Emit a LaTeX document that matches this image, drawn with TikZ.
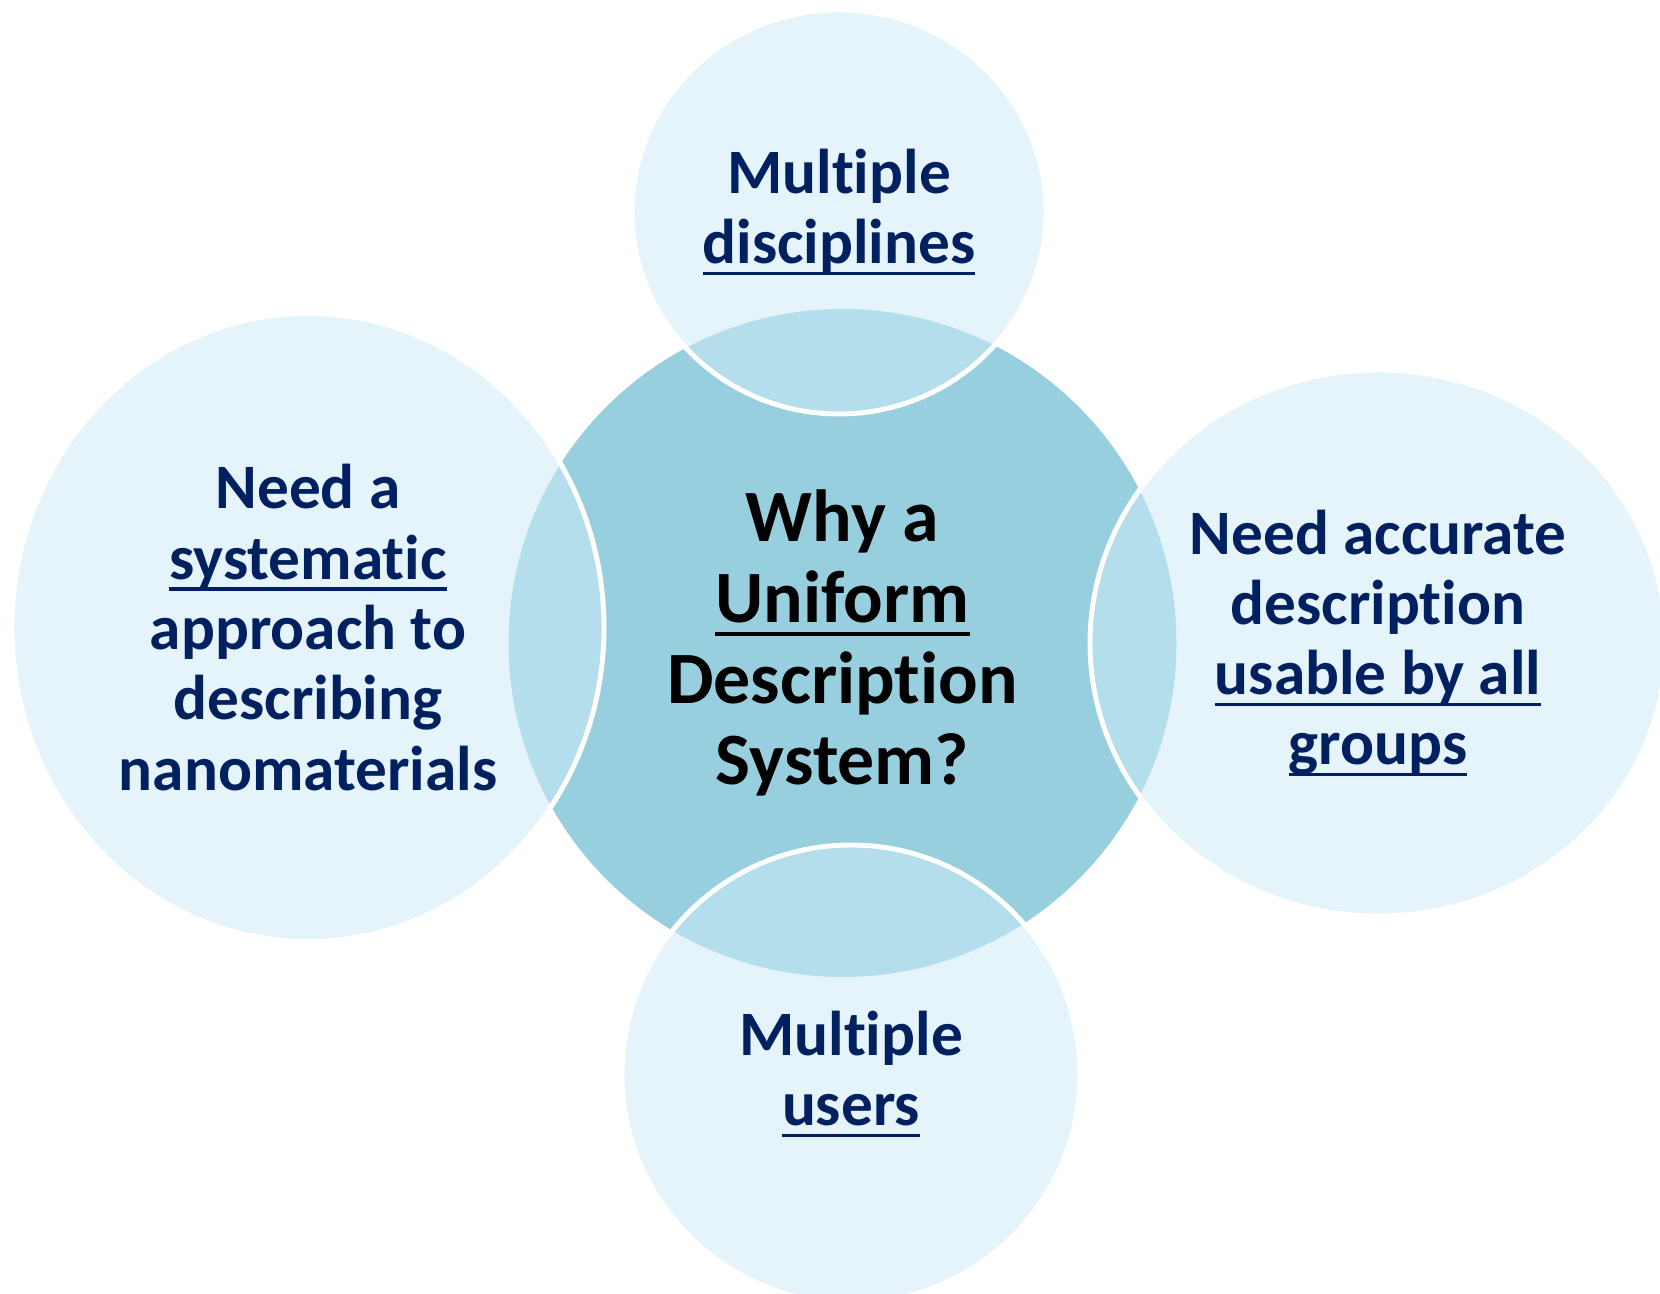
\documentclass[tikz,border=0pt]{standalone}
\usepackage{fontspec}
\setmainfont{Carlito}[RawFeature={-liga;-clig}]
\usetikzlibrary{shapes.geometric}

\definecolor{hubblue}{RGB}{152,207,223}
\definecolor{petalblue}{RGB}{205,236,247}
\definecolor{navytext}{RGB}{0,32,96}

\newcommand{\undl}[1]{\setbox0\hbox{#1}\rlap{\rule[-0.18em]{\wd0}{0.05em}}\box0}

\pgfdeclareradialshading{vignette}{\pgfpoint{0bp}{0bp}}{color(0bp)=(white); color(62bp)=(white); color(71bp)=(black!9)}

\begin{document}
\begin{tikzpicture}[
  hub/.style={ellipse, fill=hubblue, inner sep=0pt, minimum width=6.68cm, minimum height=6.68cm,
    align=center, font=\fontsize{21}{23}\selectfont\bfseries},
  petal/.style={ellipse, fill=petalblue, fill opacity=0.53, text opacity=1, draw=white, line width=1.4pt,
    inner sep=0pt, align=center, text=navytext, font=\fontsize{18}{20}\selectfont\bfseries}
]

% Frame
\useasboundingbox (0,0) rectangle (16.6,12.93);
\clip (0,0) rectangle (16.6,12.93);
\shade[shading=vignette] (0,0) rectangle (16.6,12.93);

% Centre
\node[hub] (why) at (8.425,6.50) {Why a\\\undl{Uniform}\\Description\\System?};

% Petals
\node[petal, minimum width=4.14cm, minimum height=4.04cm] (disc) at (8.39,10.81)
  {Multiple\\\undl{disciplines}};
\node[petal, minimum width=5.92cm, minimum height=6.28cm] (syst) at (3.08,6.655)
  {Need a\\\undl{systematic}\\approach to\\describing\\nanomaterials};
\node[petal, minimum width=5.76cm, minimum height=5.46cm] (accu) at (13.78,6.50)
  {Need accurate\\description\\\undl{usable by all}\\\undl{groups}};
\node[petal, minimum width=4.58cm, minimum height=4.58cm] (user) at (8.51,2.19)
  {Multiple\\\undl{users}};

\end{tikzpicture}
\end{document}
